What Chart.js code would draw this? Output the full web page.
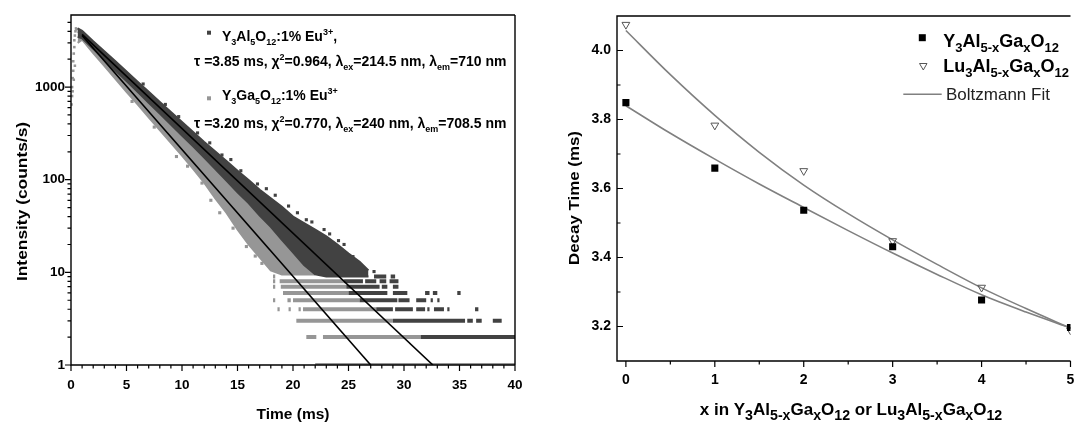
<!DOCTYPE html>
<html><head><meta charset="utf-8">
<script src="https://cdn.jsdelivr.net/npm/chart.js@4.4.1/dist/chart.umd.min.js"></script>
<style>
html,body{margin:0;padding:0;background:#fff;}
#wrap{position:relative;width:1076px;height:423px;overflow:hidden;background:#fff;}
#c1{position:absolute;left:0;top:0;}
#c2{position:absolute;left:540px;top:0;}
</style></head><body>
<div id="wrap"><canvas id="c1" width="540" height="423"></canvas><canvas id="c2" width="536" height="423"></canvas></div>
<script>
const FONT = "'Liberation Sans', Arial, sans-serif";
const DARK = '#424242', LIGHT = '#969696';

// ---------------- left panel: luminescence decay ----------------
const timeTicks = [0, 5, 10, 15, 20, 25, 30, 35, 40];
const timeMinor = [1,2,3,4,6,7,8,9,11,12,13,14,16,17,18,19,21,22,23,24,26,27,28,29,31,32,33,34,36,37,38,39];
const intensityTicks = [1, 10, 100, 1000];
const intensityMinor = [2,3,4,5,6,7,8,9,20,30,40,50,60,70,80,90,200,300,400,500,600,700,800,900,2000,3000,4000,5000];

// Y3Al5O12:1% Eu3+ (dark) - envelope of the scattered counts
const darkTimes = [0.6,1,2,3,4,5,6,7,8,9,10,11,12,13,14,15,16,17,18,19,20,21,22,23,24,25,26,26.8];
const darkUpper = [4300,4050,3120,2440,1900,1470,1145,892,689,538,419,327,255,202,159,125,99,78,63,51,40,34,29,24.5,20,16,13,10.5];
const darkLower = [3500,3370,2590,1990,1510,1165,888,677,517,394,300,229,173,130,98,73,56,41,31,22.5,16.5,12,9.5,9,9,9,9,9];
const darkDotT = [6.5,8.5,9.7,11.4,12.5,13.6,14.4,15.3,16.8,17.6,18.4,19.6,20.4,21.2,21.7,22.8,23.3,24.1,24.6,25.4,26.3,27.3];
const darkDotV = [1080,650,480,320,250,185,165,125,90,80,68,52,44,37,35,29,26,22,20,14.8,10.8,10.2];
// quantised low-count rows: [count, from, to]
const darkStrips = [
  [9,27.3,28.4],[9,28.8,29.2],
  [8,24.6,26.3],[8,26.5,27.5],[8,27.8,28.4],[8,28.7,29.5],
  [7,24.8,27.8],[7,28.0,28.5],[7,29.0,29.5],
  [6,25.0,28.5],[6,29.0,30.3],[6,31.9,32.3],[6,32.6,33.0],[6,34.8,35.1],
  [5,26.0,29.4],[5,29.5,30.5],[5,31.1,32.0],[5,32.4,32.6],[5,33.0,33.2],
  [4,27.5,29.0],[4,29.2,30.8],[4,31.1,31.9],[4,32.1,32.3],[4,32.7,33.6],[4,33.9,34.1],[4,36.4,36.7],
  [3,29.0,35.5],[3,35.7,36.2],[3,36.5,37.0],[3,38.0,38.8],
  [2,31.5,40]
];

// Y3Ga5O12:1% Eu3+ (light)
const lightTimes = [0.6,1,2,3,4,5,6,7,8,9,10,11,12,13,14,15,16,17,18,19,20,21,22];
const lightUpper = [4000,3530,2720,2050,1590,1190,919,692,535,403,311,234,176,133,100,78,58,44,33,25,18,13.5,10.5];
const lightLower = [3000,3250,2330,1700,1230,890,652,471,344,250,182,131,93,63,44,29,20,14.5,10.5,9.5,9.5,9.5,9.5];
const lightDotT = [5.5,7.5,9.5,10.5,11.8,12.6,13.4,14.6,15.8,16.6,17.2];
const lightDotV = [700,370,178,140,92,60,44,30,19,15,12.5];
const riseTimes = [0.05,0.1,0.1,0.15,0.2,0.2,0.25,0.3,0.3,0.35,0.4,0.45,0.5,0.15,0.25,0.35];
const riseValues = [650,800,1000,1250,1500,1900,2300,2700,3200,3600,4000,4300,4200,900,1200,1700];
const lightStrips = [
  [9,18.2,18.4],
  [8,18.2,18.4],[8,18.8,24.6],
  [7,18.2,18.4],[7,18.9,24.8],
  [6,19.1,25.0],
  [5,18.2,18.4],[5,19.5,19.8],[5,20.0,26.0],
  [4,18.6,18.8],[4,19.6,19.8],[4,20.5,20.7],[4,20.9,27.5],
  [3,20.3,29.0],
  [2,21.2,22.1],[2,22.7,31.5],
  [1,22.0,40]
];

// single-exponential fits (straight lines on the log axis)
const fitATimes = [1.0, 32.6], fitAValues = [3700, 1];
const fitBTimes = [1.0, 27.0], fitBValues = [3600, 1];

// ---------------- right panel: decay time vs x ----------------
const compTicks = [0, 1, 2, 3, 4, 5];
const compMinor = [0.5, 1.5, 2.5, 3.5, 4.5];
const decayTicks = [3.2, 3.4, 3.6, 3.8, 4.0];
const decayMinor = [3.3, 3.5, 3.7, 3.9];
const xComp = [0, 1, 2, 3, 4, 5];
const yagDecay = [3.849, 3.659, 3.537, 3.431, 3.277, 3.197];
const luagDecay = [4.075, 3.783, 3.651, 3.448, 3.313, 3.189];
const fitX = [0, 0.5, 1, 1.5, 2, 2.5, 3, 3.5, 4, 4.5, 5];
const yagFit = [3.840, 3.760, 3.685, 3.613, 3.545, 3.478, 3.413, 3.351, 3.292, 3.242, 3.196];
const luagFit = [4.058, 3.930, 3.812, 3.705, 3.610, 3.527, 3.451, 3.380, 3.312, 3.252, 3.195];

// ---------------- texts ----------------
const legL1 = [['Y',''],['3','sub'],['Al',''],['5','sub'],['O',''],['12','sub'],[':1% Eu',''],['3+','sup'],[',','']];
const legL2 = [['\u03C4 =3.85 ms, \u03C7',''],['2','sup'],['=0.964, \u03BB',''],['ex','sub'],['=214.5 nm, \u03BB',''],['em','sub'],['=710 nm','']];
const legL3 = [['Y',''],['3','sub'],['Ga',''],['5','sub'],['O',''],['12','sub'],[':1% Eu',''],['3+','sup']];
const legL4 = [['\u03C4 =3.20 ms, \u03C7',''],['2','sup'],['=0.770, \u03BB',''],['ex','sub'],['=240 nm, \u03BB',''],['em','sub'],['=708.5 nm','']];
const legR1 = [['Y',''],['3','sub'],['Al',''],['5-x','sub'],['Ga',''],['x','sub'],['O',''],['12','sub']];
const legR2 = [['Lu',''],['3','sub'],['Al',''],['5-x','sub'],['Ga',''],['x','sub'],['O',''],['12','sub']];
const legR3 = [['Boltzmann Fit','']];
const xTitleL = [['Time (ms)','']];
const yTitleL = [['Intensity (counts/s)','']];
const yTitleR = [['Decay Time (ms)','']];
const xTitleR = [['x in Y',''],['3','sub'],['Al',''],['5-x','sub'],['Ga',''],['x','sub'],['O',''],['12','sub'],[' or Lu',''],['3','sub'],['Al',''],['5-x','sub'],['Ga',''],['x','sub'],['O',''],['12','sub']];

Chart.defaults.font.family = FONT;

const pts = (xs, ys) => xs.map((x, i) => ({x: x, y: ys[i]}));
const stripPts = (strips) => {
  const out = [];
  strips.forEach(([lv, a, b]) => { out.push({x: a, y: lv}, {x: b, y: lv}, {x: b, y: null}); });
  return out;
};

function drawRich(ctx, parts, x, y, o) {
  const base = `${o.weight} ${o.size}px ${FONT}`, sm = `${o.weight} ${o.small}px ${FONT}`;
  let w = 0;
  parts.forEach(([t, m]) => { ctx.font = m ? sm : base; w += ctx.measureText(t).width; });
  let cx = o.align === 'center' ? x - w / 2 : x;
  ctx.fillStyle = o.color || '#000';
  ctx.textBaseline = 'alphabetic';
  ctx.textAlign = 'left';
  parts.forEach(([t, m]) => {
    ctx.font = m ? sm : base;
    const dy = m === 'sub' ? o.size * 0.3 : (m === 'sup' ? -o.size * 0.42 : 0);
    ctx.fillText(t, cx, y + dy);
    cx += ctx.measureText(t).width;
  });
}

function drawVertical(ctx, parts, x, y, stretch, o) {
  ctx.save();
  ctx.translate(x, y);
  ctx.rotate(-Math.PI / 2);
  ctx.scale(stretch, 1);
  drawRich(ctx, parts, 0, 0, Object.assign({align: 'center'}, o));
  ctx.restore();
}

const frameTicks = {
  id: 'frameTicks',
  afterDraw(chart, args, o) {
    const {ctx, chartArea: a, scales} = chart;
    ctx.save();
    ctx.strokeStyle = '#000';
    ctx.lineWidth = 1.4;
    ctx.beginPath();
    if (o.sides.includes('top')) { ctx.moveTo(a.left, a.top); ctx.lineTo(a.right, a.top); }
    if (o.sides.includes('right')) { ctx.moveTo(a.right, a.top); ctx.lineTo(a.right, a.bottom); }
    if (o.sides.includes('bottom')) { ctx.moveTo(a.left - 0.7, a.bottom); ctx.lineTo(a.right, a.bottom); }
    if (o.sides.includes('left')) { ctx.moveTo(a.left, a.top - 0.7); ctx.lineTo(a.left, a.bottom + 0.7); }
    ctx.stroke();
    ctx.lineWidth = 1.2;
    ctx.beginPath();
    const xs = scales.x, ys = scales.y;
    const xt = (vals, len) => vals.forEach(v => { const p = xs.getPixelForValue(v); ctx.moveTo(p, a.bottom); ctx.lineTo(p, a.bottom + len); });
    const yt = (vals, len) => vals.forEach(v => { const p = ys.getPixelForValue(v); const d = o.yIn ? len : -len; ctx.moveTo(a.left, p); ctx.lineTo(a.left + d, p); });
    xt(o.xMajor, 6); xt(o.xMinor, 3.5);
    yt(o.yMajor, 6); yt(o.yMinor, 3.5);
    ctx.stroke();
    ctx.restore();
  }
};

const decor = {
  id: 'decor',
  afterDraw(chart, args, o) {
    const ctx = chart.ctx;
    ctx.save();
    o.draw(ctx, chart);
    ctx.restore();
  }
};

// ---------------- left chart ----------------
new Chart(document.getElementById('c1'), {
  type: 'line',
  data: { datasets: [
    {label: 'fit 3.85 ms', data: pts(fitATimes, fitAValues), borderColor: '#000', borderWidth: 1.6, pointRadius: 0, fill: false},
    {label: 'fit 3.20 ms', data: pts(fitBTimes, fitBValues), borderColor: '#000', borderWidth: 1.6, pointRadius: 0, fill: false},
    {label: 'YAG dots', data: pts(darkDotT, darkDotV), showLine: false, pointStyle: 'rect', pointRadius: 2.2, backgroundColor: DARK, borderWidth: 0},
    {label: 'YAG upper', data: pts(darkTimes, darkUpper), borderColor: DARK, borderWidth: 2, pointRadius: 0, fill: false},
    {label: 'YAG lower', data: pts(darkTimes, darkLower), borderColor: DARK, borderWidth: 2, pointRadius: 0, fill: '-1', backgroundColor: DARK},
    {label: 'YAG rows', data: stripPts(darkStrips), borderColor: DARK, borderWidth: 4, pointRadius: 0, spanGaps: false, borderCapStyle: 'butt', fill: false},
    {label: 'YGG dots', data: pts(lightDotT, lightDotV), showLine: false, pointStyle: 'rect', pointRadius: 2.2, backgroundColor: LIGHT, borderWidth: 0},
    {label: 'YGG upper', data: pts(lightTimes, lightUpper), borderColor: LIGHT, borderWidth: 2, pointRadius: 0, fill: false},
    {label: 'YGG lower', data: pts(lightTimes, lightLower), borderColor: LIGHT, borderWidth: 2, pointRadius: 0, fill: '-1', backgroundColor: LIGHT},
    {label: 'YGG rows', data: stripPts(lightStrips), borderColor: LIGHT, borderWidth: 4, pointRadius: 0, spanGaps: false, borderCapStyle: 'butt', fill: false},
    {label: 'YGG rise', data: pts(riseTimes, riseValues), showLine: false, pointStyle: 'rect', pointRadius: 1.8, backgroundColor: LIGHT, borderWidth: 0}
  ]},
  options: {
    responsive: false, animation: false,
    layout: {padding: {left: 0, top: 15, right: 25, bottom: 0}},
    elements: {line: {tension: 0}},
    plugins: {
      legend: {display: false}, tooltip: {enabled: false},
      frameTicks: {sides: ['top', 'right', 'bottom', 'left'], xMajor: timeTicks, xMinor: timeMinor, yMajor: intensityTicks, yMinor: intensityMinor, yIn: false},
      decor: {draw: (ctx, chart) => {
        const a = chart.chartArea;
        ctx.fillStyle = DARK; ctx.fillRect(207, 30.7, 4, 4);
        ctx.fillStyle = LIGHT; ctx.fillRect(207, 96.3, 4, 4);
        const lo = {size: 14, small: 9, weight: 'bold', color: '#000'};
        drawRich(ctx, legL1, 222, 40.5, lo);
        drawRich(ctx, legL2, 194, 66, lo);
        drawRich(ctx, legL3, 222, 100, lo);
        drawRich(ctx, legL4, 194, 127.5, lo);
        drawRich(ctx, xTitleL, (a.left + a.right) / 2, 419, {size: 15.5, small: 10, weight: 'bold', align: 'center'});
        drawVertical(ctx, yTitleL, 26.7, 201.5, 1.12, {size: 15.5, small: 10, weight: 'bold'});
      }}
    },
    scales: {
      x: {type: 'linear', min: 0, max: 40,
        grid: {display: false, drawTicks: false}, border: {display: false},
        ticks: {color: '#000', font: {size: 13.5, weight: 'bold'}, padding: 12, maxRotation: 0, autoSkip: false},
        afterBuildTicks: s => { s.ticks = timeTicks.map(v => ({value: v})); },
        afterFit: s => { s.height = 58; s.paddingLeft = 0; s.paddingRight = 0; }},
      y: {type: 'logarithmic', min: 1, max: 6000,
        grid: {display: false, drawTicks: false}, border: {display: false},
        ticks: {color: '#000', font: {size: 13.5, weight: 'bold'}, padding: 6, autoSkip: false, callback: v => String(v)},
        afterBuildTicks: s => { s.ticks = intensityTicks.map(v => ({value: v})); },
        afterFit: s => { s.width = 71; s.paddingTop = 0; s.paddingBottom = 0; }}
    }
  },
  plugins: [frameTicks, decor]
});

// ---------------- right chart ----------------
new Chart(document.getElementById('c2'), {
  type: 'line',
  data: { datasets: [
    {label: 'Y3Al5-xGaxO12', data: pts(xComp, yagDecay), showLine: false, pointStyle: 'rect', pointRadius: 5, backgroundColor: '#000', borderColor: '#000', borderWidth: 0},
    {label: 'Lu3Al5-xGaxO12', data: pts(xComp, luagDecay), showLine: false, pointStyle: 'triangle', rotation: 180, pointRadius: 4.5, backgroundColor: 'rgba(255,255,255,0)', borderColor: '#555', borderWidth: 1},
    {label: 'Boltzmann Fit Y', data: pts(fitX, yagFit), borderColor: '#808080', borderWidth: 1.6, pointRadius: 0, cubicInterpolationMode: 'monotone', fill: false},
    {label: 'Boltzmann Fit Lu', data: pts(fitX, luagFit), borderColor: '#808080', borderWidth: 1.6, pointRadius: 0, cubicInterpolationMode: 'monotone', fill: false}
  ]},
  options: {
    responsive: false, animation: false,
    layout: {padding: {left: 0, top: 16, right: 0, bottom: 0}},
    plugins: {
      legend: {display: false}, tooltip: {enabled: false},
      frameTicks: {sides: ['top', 'bottom', 'left'], xMajor: compTicks, xMinor: compMinor, yMajor: decayTicks, yMinor: decayMinor, yIn: true},
      decor: {draw: (ctx, chart) => {
        ctx.fillStyle = '#000'; ctx.fillRect(378.8, 34.2, 7, 7);
        ctx.strokeStyle = '#555'; ctx.lineWidth = 1;
        ctx.beginPath(); ctx.moveTo(379.5, 63.5); ctx.lineTo(387, 63.5); ctx.lineTo(383.3, 70); ctx.closePath(); ctx.stroke();
        ctx.strokeStyle = '#808080'; ctx.lineWidth = 1.6;
        ctx.beginPath(); ctx.moveTo(363.3, 94.3); ctx.lineTo(401.7, 94.3); ctx.stroke();
        const lo = {size: 18, small: 13, weight: 'bold', color: '#000'};
        drawRich(ctx, legR1, 403.3, 46.7, lo);
        drawRich(ctx, legR2, 403.3, 71.7, lo);
        drawRich(ctx, legR3, 406, 100, {size: 17, small: 12, weight: 'normal', color: '#222'});
        drawRich(ctx, xTitleR, 311, 415, {size: 17, small: 14.2, weight: 'bold', align: 'center'});
        drawVertical(ctx, yTitleR, 38.5, 198, 1.09, {size: 15.5, small: 10, weight: 'bold'});
      }}
    },
    scales: {
      x: {type: 'linear', min: -0.1, max: 5.0,
        grid: {display: false, drawTicks: false}, border: {display: false},
        ticks: {color: '#000', font: {size: 14, weight: 'bold'}, padding: 11, maxRotation: 0, autoSkip: false},
        afterBuildTicks: s => { s.ticks = compTicks.map(v => ({value: v})); },
        afterFit: s => { s.height = 62; s.paddingLeft = 0; s.paddingRight = 0; }},
      y: {type: 'linear', min: 3.1, max: 4.1,
        grid: {display: false, drawTicks: false}, border: {display: false},
        ticks: {color: '#000', font: {size: 14, weight: 'bold'}, padding: 6, autoSkip: false, callback: v => Number(v).toFixed(1)},
        afterBuildTicks: s => { s.ticks = decayTicks.map(v => ({value: v})); },
        afterFit: s => { s.width = 77; s.paddingTop = 0; s.paddingBottom = 0; }}
    }
  },
  plugins: [frameTicks, decor]
});
</script>
</body></html>
